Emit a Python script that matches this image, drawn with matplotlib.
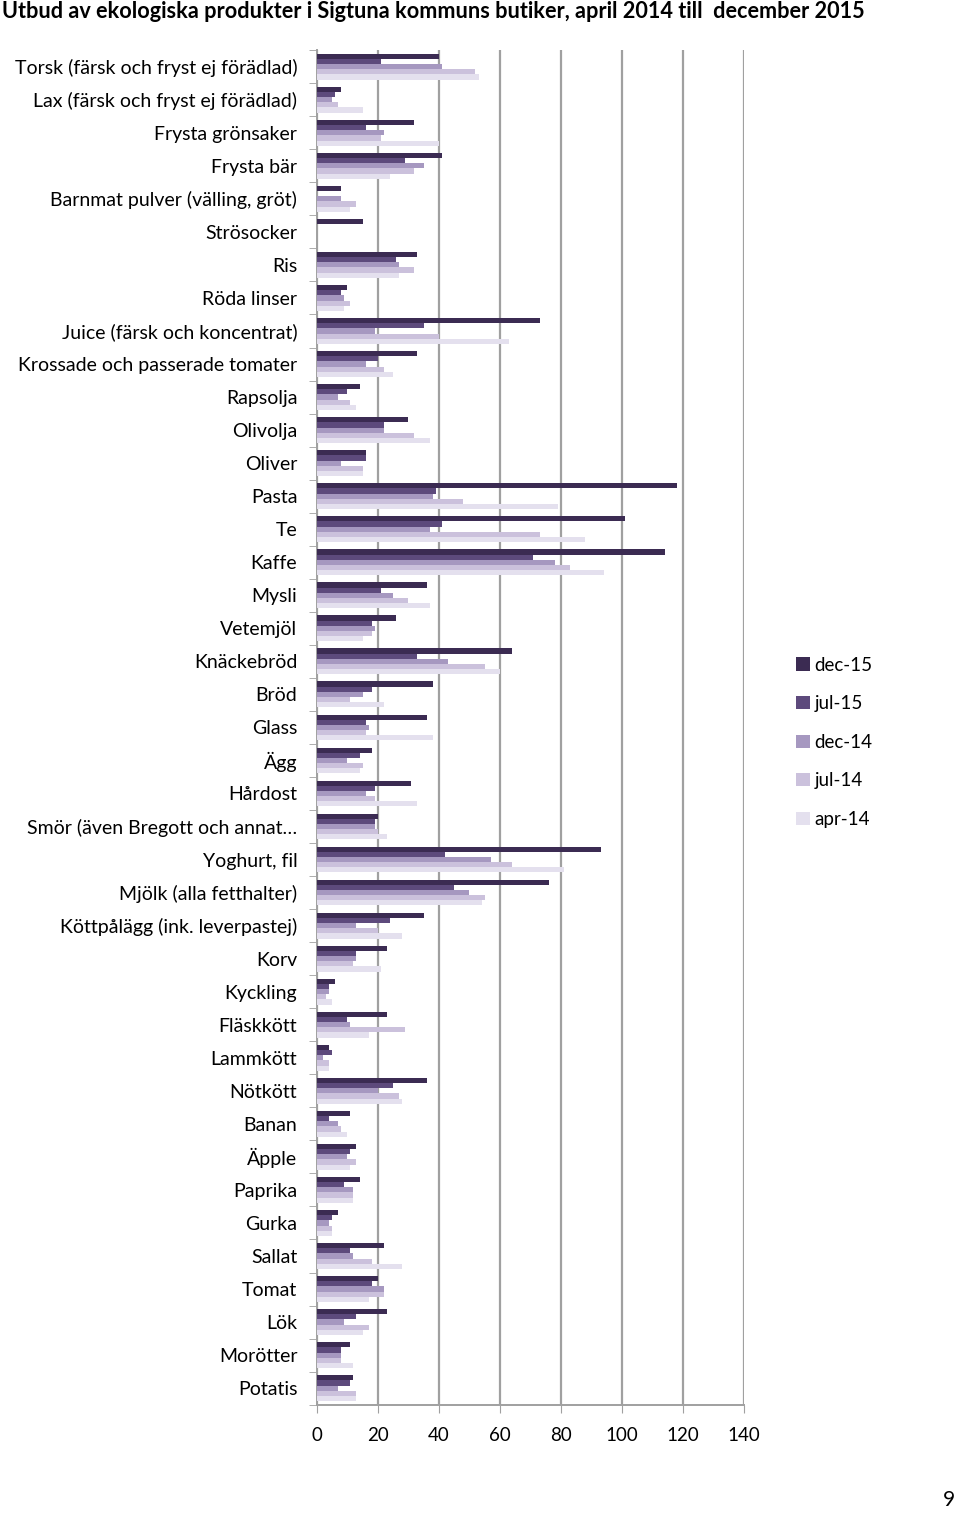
import numpy as np
import matplotlib.pyplot as plt
from matplotlib.patches import Patch

plt.rcParams['font.family'] = ['Lato', 'DejaVu Sans']

categories = [
    'Torsk (färsk och fryst ej förädlad)', 'Lax (färsk och fryst ej förädlad)',
    'Frysta grönsaker', 'Frysta bär', 'Barnmat pulver (välling, gröt)',
    'Strösocker', 'Ris', 'Röda linser', 'Juice (färsk och koncentrat)',
    'Krossade och passerade tomater', 'Rapsolja', 'Olivolja', 'Oliver',
    'Pasta', 'Te', 'Kaffe', 'Mysli', 'Vetemjöl', 'Knäckebröd', 'Bröd',
    'Glass', 'Ägg', 'Hårdost', 'Smör (även Bregott och annat…',
    'Yoghurt, fil', 'Mjölk (alla fetthalter)', 'Köttpålägg (ink. leverpastej)',
    'Korv', 'Kyckling', 'Fläskkött', 'Lammkött', 'Nötkött', 'Banan', 'Äpple',
    'Paprika', 'Gurka', 'Sallat', 'Tomat', 'Lök', 'Morötter', 'Potatis',
]

dec15 = [40, 8, 32, 41, 8, 15, 33, 10, 73, 33, 14, 30, 16, 118, 101, 114, 36, 26, 64, 38,
         36, 18, 31, 20, 93, 76, 35, 23, 6, 23, 4, 36, 11, 13, 14, 7, 22, 20, 23, 11, 12]
jul15 = [21, 6, 16, 29, 0, 0, 26, 8, 35, 20, 10, 22, 16, 39, 41, 71, 21, 18, 33, 18,
         16, 14, 19, 19, 42, 45, 24, 13, 4, 10, 5, 25, 4, 11, 9, 5, 11, 18, 13, 8, 11]
dec14 = [41, 5, 22, 35, 8, 0, 27, 9, 19, 16, 7, 22, 8, 38, 37, 78, 25, 19, 43, 15,
         17, 10, 16, 19, 57, 50, 13, 13, 4, 11, 2, 20, 7, 10, 12, 4, 12, 22, 9, 8, 7]
jul14 = [52, 7, 21, 32, 13, 0, 32, 11, 40, 22, 11, 32, 15, 48, 73, 83, 30, 18, 55, 11,
         16, 15, 19, 20, 64, 55, 20, 12, 3, 29, 4, 27, 8, 13, 12, 5, 18, 22, 17, 8, 13]
apr14 = [53, 15, 40, 24, 11, 0, 27, 9, 63, 25, 13, 37, 15, 79, 88, 94, 37, 15, 60, 22,
         38, 14, 33, 23, 81, 54, 28, 21, 5, 17, 4, 28, 10, 11, 12, 5, 28, 17, 15, 12, 13]

series = [dec15, jul15, dec14, jul14, apr14]
labels = ['dec-15', 'jul-15', 'dec-14', 'jul-14', 'apr-14']
colors = ['#3b2b52', '#5d4a7c', '#a698c0', '#cbc1dc', '#e4e0ee']

fig = plt.figure(figsize=(9.6, 15.21), dpi=100)
ax = fig.add_axes([0.33, 0.0765, 0.445, 0.8905])

y = np.arange(len(categories))
h = 0.156
for j, (vals, lab, col) in enumerate(zip(series, labels, colors)):
    ax.barh(y + (j - 2) * h, vals, height=h, color=col, label=lab, zorder=3)

ax.set_xlim(0, 140)
ax.set_ylim(len(categories) - 0.5, -0.5)
ax.set_xticks(np.arange(0, 141, 20))
ax.tick_params(axis='x', labelsize=13.5, length=6, color='#a0a0a0', pad=10)
ax.set_yticks(y)
ax.set_yticklabels(categories)
ax.tick_params(axis='y', which='major', length=0, labelsize=14, pad=14)
ax.set_yticks(np.arange(-0.5, len(categories), 1), minor=True)
ax.tick_params(axis='y', which='minor', length=6, color='#a0a0a0')
ax.xaxis.grid(True, color='#a0a0a0', linewidth=1.6, zorder=0)
for s in ['top', 'right']:
    ax.spines[s].set_visible(False)
for s in ['left', 'bottom']:
    ax.spines[s].set_color('#a0a0a0')
    ax.spines[s].set_linewidth(1.4)

fig.text(0.002, 0.9925, 'Utbud av ekologiska produkter i Sigtuna kommuns butiker, april 2014 till  december 2015',
         fontsize=15.6, fontweight='bold', ha='left', va='center')

handles = [Patch(facecolor=c, label=l) for c, l in zip(colors, labels)]
fig.legend(handles=handles, loc='center left', bbox_to_anchor=(0.812, 0.512), frameon=False,
           fontsize=13.5, handlelength=0.7, handleheight=0.7, handletextpad=0.25, labelspacing=1.15)

fig.text(0.995, 0.007, '9', fontsize=15, ha='right', va='bottom')

fig.savefig('out.png', dpi=100)
